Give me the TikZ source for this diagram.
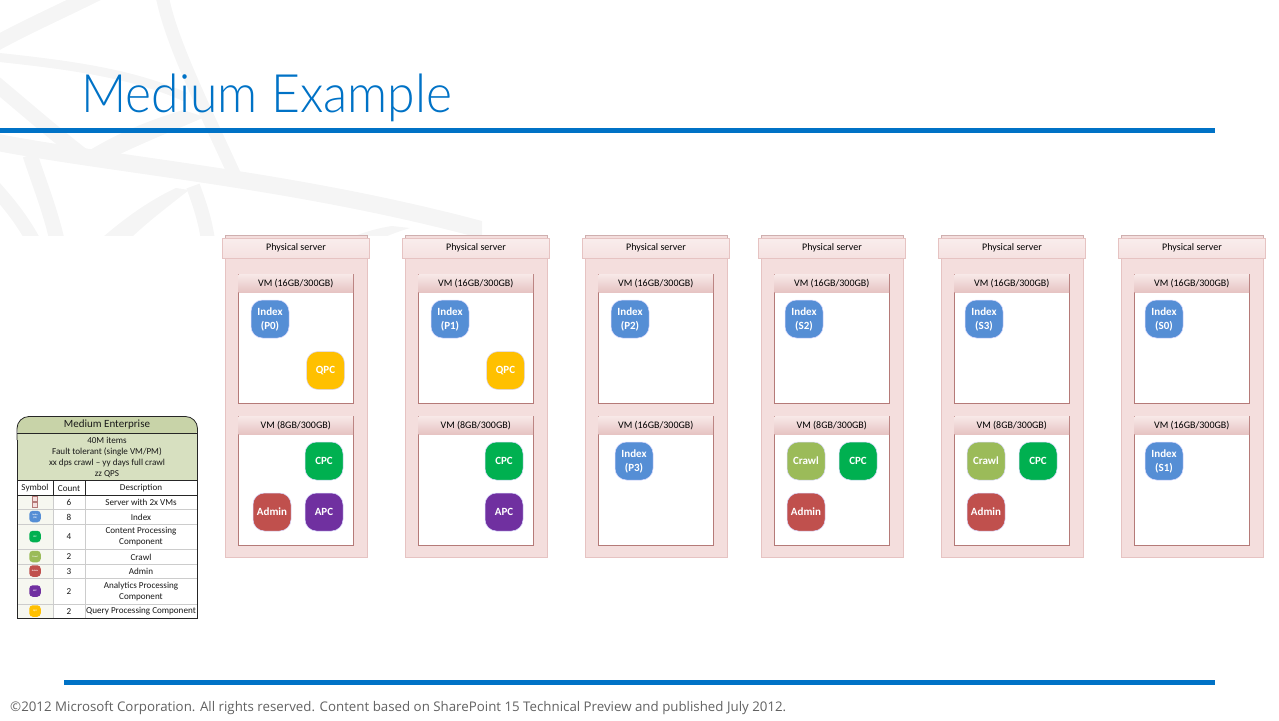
\documentclass[tikz,border=0pt]{standalone}
\usepackage{fontspec}
\setmainfont{Carlito}
\newfontfamily\titlefont[FakeStretch=0.94]{Lato Light}
\newfontfamily\footfont{Open Sans}
\usetikzlibrary{shadings}
\definecolor{msblue}{HTML}{0072C6}
\definecolor{bgband}{HTML}{F5F5F5}
\definecolor{srvfill}{HTML}{F4DEDD}
\definecolor{srvline}{HTML}{E6C3C2}
\definecolor{vmline}{HTML}{B57A78}
\definecolor{tabgreen}{HTML}{D7E0C0}
\definecolor{tabhead}{HTML}{C8D3A8}
\definecolor{tabsym}{HTML}{F6F7F0}
\definecolor{tabrule}{HTML}{CCCCCC}
\tikzset{
  srvbox/.style={draw=srvline,fill=srvfill,line width=1pt,inner sep=0pt,outer sep=0pt,anchor=north west,minimum width=142pt,minimum height=321pt},
  srvhead/.style={draw=srvline,top color=srvfill!55,bottom color=srvfill!90,line width=1pt,inner sep=0pt,outer sep=0pt,anchor=north west,minimum width=147pt,minimum height=20pt,font=\fontsize{10}{11}\selectfont,text=black},
  srvback/.style={draw=srvline!90!black,fill=srvfill,line width=1pt,inner sep=0pt,outer sep=0pt,anchor=north west,minimum width=142pt,minimum height=6pt},
  vmbox/.style={draw=vmline,fill=white,line width=1pt,inner sep=0pt,outer sep=0pt,anchor=north west,minimum width=115.5pt,minimum height=129pt},
  vmhead/.style={draw=none,top color=srvfill!70,bottom color=srvline,inner sep=0pt,outer sep=0pt,anchor=north west,minimum width=114.5pt,minimum height=18pt,font=\fontsize{10}{11}\selectfont,text=black},
  cmp/.style={draw=white!85!blue,line width=0.5pt,rounded corners=11.5pt,minimum width=38pt,minimum height=38pt,inner sep=0pt,align=center,text=white,font=\fontsize{11}{14}\selectfont\bfseries},
  idx/.style={cmp,fill=idxblue},
  qpc/.style={cmp,fill=qpcyel},
  cpc/.style={cmp,fill=cpcgreen},
  apc/.style={cmp,fill=apcpurple},
  adm/.style={cmp,fill=admred},
  crl/.style={cmp,fill=crlgreen},
  minicmp/.style={draw=none,rounded corners=3.5pt,minimum width=11.5pt,minimum height=11.5pt,inner sep=0pt,align=center,text=white,font=\fontsize{2.2}{2.6}\selectfont\bfseries},
  tabtext/.style={inner sep=0pt,align=center,text=black!90,font=\fontsize{9.1}{11}\selectfont},
  band/.style={fill=bgband,draw=none},
  bandline/.style={draw=bgband,line cap=butt},
}
\definecolor{idxblue}{HTML}{558ED5}
\definecolor{qpcyel}{HTML}{FFC000}
\definecolor{cpcgreen}{HTML}{00B050}
\definecolor{apcpurple}{HTML}{7030A0}
\definecolor{admred}{HTML}{C0504D}
\definecolor{crlgreen}{HTML}{9BBB59}
\begin{document}
\begin{tikzpicture}[x=1pt,y=-1pt]
\useasboundingbox (0,0) rectangle (1279,720);
\begin{scope}
\clip (0,0) rectangle (482,235);
\draw[bandline,line width=15pt] (-5,44) .. controls (30,25) and (60,12) .. (100,-8);
\draw[bandline,line width=13pt] (162,-5) .. controls (170,40) and (205,110) .. (236,178);
\draw[bandline,line width=9pt] (-5,57) .. controls (60,64) and (130,72) .. (185,97);
\draw[bandline,line width=15pt] (-5,83) .. controls (25,108) and (50,130) .. (82,155);
\draw[bandline,line width=17pt] (-5,142) .. controls (120,166) and (300,180) .. (490,232);
\draw[bandline,line width=15pt] (30,155) .. controls (40,185) and (50,210) .. (57,240);
\draw[bandline,line width=14pt] (-5,188) .. controls (10,205) and (22,220) .. (33,240);
\draw[bandline,line width=14pt] (193,186) .. controls (200,205) and (205,220) .. (208,240);
\path[band] (103,237) .. controls (125,218) and (150,200) .. (176,188) -- (189,190) .. controls (170,205) and (150,220) .. (132,237) -- cycle;
\path[band] (90,150) .. controls (120,132) and (150,120) .. (183,110) -- (205,117) .. controls (175,130) and (145,142) .. (118,155) -- cycle;
\path[band] (352,237) .. controls (365,232) and (378,228) .. (392,226) -- (410,228) .. controls (400,231) and (392,234) .. (385,237) -- cycle;
\end{scope}
\node[anchor=base west,inner sep=0pt,text=msblue,font=\fontsize{53}{60}\selectfont\titlefont] (title) at (81,112) {Medium Example};
\fill[msblue] (0,128) rectangle (1215,133);
\fill[msblue] (64,680) rectangle (1215,685);
\node[anchor=base west,inner sep=0pt,text=black!62,font=\fontsize{13.3}{15}\selectfont\footfont] (foot) at (10,711) {©2012 Microsoft Corporation. All rights reserved. Content based on SharePoint 15 Technical Preview and published July 2012.};
\foreach \sname/\sx/\vmtop/\vmlow in {a/225/16/8,b/405/16/8,c/585/16/16,d/761/16/8,e/941/16/8,f/1121/16/16}{
  \node[srvbox] (srv\sname) at (\sx,236) {};
  \node[srvback] (back\sname) at (\sx,235) {};
  \node[srvhead] (head\sname) at (\sx-2.5,238) {\raisebox{-1pt}{Physical server}};
  \node[vmbox] (vmt\sname) at (\sx+13,274) {};
  \node[vmhead] (vmth\sname) at (\sx+13.5,274.5) {VM (\vmtop GB/300GB)};
  \node[vmbox] (vml\sname) at (\sx+13,416) {};
  \node[vmhead] (vmlh\sname) at (\sx+13.5,416.5) {VM (\vmlow GB/300GB)};
}
\foreach \cname/\cx/\cy/\cstyle/\ctext in {
  ia/270/319/idx/{Index\\(P0)},qa/325.5/370.5/qpc/QPC,ca/324/461/cpc/CPC,da/272/512/adm/Admin,pa/324/512/apc/APC,
  ib/450/319/idx/{Index\\(P1)},qb/505.5/370.5/qpc/QPC,cb/504/461/cpc/CPC,pb/504/512/apc/APC,
  ic/630/319/idx/{Index\\(P2)},jc/634/461/idx/{Index\\(P3)},
  id/804/319/idx/{Index\\(S2)},rd/806/461/crl/Crawl,cd/858/461/cpc/CPC,dd/806/512/adm/Admin,
  ie/984/319/idx/{Index\\(S3)},re/986/461/crl/Crawl,ce/1038/461/cpc/CPC,de/986/512/adm/Admin,
  if/1164/319/idx/{Index\\(S0)},jf/1164/461/idx/{Index\\(S1)}}{
  \node[\cstyle] (\cname) at (\cx,\cy) {\ctext};
}
% legend
\fill[tabgreen] (17,433) rectangle (197.5,480);
\fill[tabhead,rounded corners=12pt] (17,440) -- (17,416.5) -- (197.5,416.5) -- (197.5,440) -- cycle;
\fill[tabgreen] (17,433) rectangle (197.5,445);
\fill[white] (17,480) rectangle (197.5,618.5);
\fill[tabsym] (17,495) rectangle (53,618.5);
\foreach \ry in {509,524,549,564,578,604}{
  \draw[tabrule,line width=0.7pt] (17,\ry) -- (197.5,\ry);
}
\draw[tabrule,line width=0.7pt] (53,495) -- (53,618.5);
\draw[tabrule,line width=0.7pt] (85,495) -- (85,618.5);
\draw[black!85,line width=0.7pt] (17,480) -- (197.5,480);
\draw[black!85,line width=0.7pt] (17,495) -- (197.5,495);
\draw[black!85,line width=0.7pt] (17,433) -- (197.5,433);
\draw[black!85,line width=0.7pt] (53,480) -- (53,495);
\draw[black!85,line width=0.7pt] (85,480) -- (85,495);
\draw[black!85,line width=0.8pt,rounded corners=12pt] (17,440) -- (17,416.5) -- (197.5,416.5) -- (197.5,440);
\draw[black!85,line width=0.8pt] (17,440) -- (17,618.5) -- (197.5,618.5) -- (197.5,440);
\node[tabtext,font=\fontsize{11}{12}\selectfont] (tabtitle) at (107,425) {Medium Enterprise};
\node[tabtext] (tabinfo) at (107,457.5) {40M items\\Fault tolerant (single VM/PM)\\xx dps crawl – yy days full crawl\\zz QPS};
\node[tabtext] (hsym) at (35,488.5) {Symbol};
\node[tabtext] (hcnt) at (69,488.5) {Count};
\node[tabtext] (hdes) at (141,488.5) {Description};
\foreach \rname/\ry/\rcount/\rtext in {
  srv/502.5/6/{Server with 2x VMs},idx/517/8/Index,cpc/537/4/{Content Processing\\Component},crl/557/2/Crawl,
  adm/571.5/3/Admin,apc/591.5/2/{Analytics Processing\\Component},qpc/611.5/2/{Query Processing Component}}{
  \node[tabtext] (cnt\rname) at (69,\ry) {\rcount};
  \node[tabtext] (des\rname) at (141,\ry) {\rtext};
}
\node[draw=vmline,fill=srvfill,line width=0.8pt,inner sep=0pt,minimum width=4.5pt,minimum height=5.5pt] (symsrvt) at (35,499) {};
\node[draw=vmline,fill=srvfill,line width=0.8pt,inner sep=0pt,minimum width=4.5pt,minimum height=5.5pt] (symsrvb) at (35,505) {};
\foreach \sname/\sy/\sfill/\stext in {
  idx/516.5/idxblue/{Index\\(P0)},cpc/536.5/cpcgreen/CPC,crl/556.5/crlgreen/Crawl,adm/571/admred/Admin,apc/591/apcpurple/APC,qpc/611/qpcyel/QPC}{
  \node[minicmp,fill=\sfill] (sym\sname) at (35,\sy) {\stext};
}
\end{tikzpicture}
\end{document}
